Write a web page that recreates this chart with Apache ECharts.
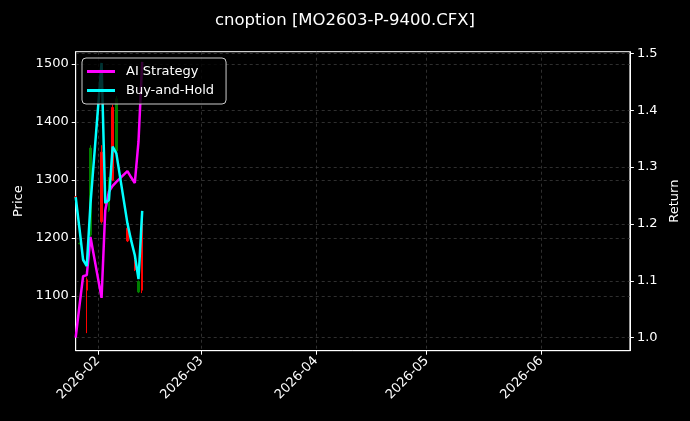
<!DOCTYPE html>
<html>
<head>
<meta charset="utf-8">
<script src="https://cdn.jsdelivr.net/npm/echarts@6/dist/echarts.min.js"></script>
<style>
html,body{margin:0;padding:0;background:#000;}
#chart{width:690px;height:421px;}
</style>
</head>
<body>
<div id="chart"></div>
<script>
// ---- data ----
var dates = ['2026-01-26','2026-01-27','2026-01-28','2026-01-29','2026-01-30',
             '2026-02-02','2026-02-03','2026-02-04','2026-02-05','2026-02-06',
             '2026-02-09','2026-02-10','2026-02-11','2026-02-12','2026-02-13'];
var openP  = [1270, 1191, 1161, 1110, 1355, 1228, 1259, 1300, 1300, 1440, 1195, 1197, 1145, 1125, 1110];
var closeP = [1271, 1190, 1162, 1128, 1205, 1348, 1261, 1248, 1425, 1350, 1217, 1196, 1160, 1107, 1237];
var lowP   = [1269, 1189, 1160, 1036, 1198, 1225, 1258, 1245, 1298, 1345, 1193, 1195, 1143, 1105, 1105];
var highP  = [1272, 1192, 1163, 1132, 1360, 1360, 1262, 1305, 1430, 1445, 1219, 1198, 1162, 1127, 1240];
var strategy = [1.000, 1.055, 1.108, 1.110, 1.177, 1.070, 1.224, 1.257, 1.267, 1.274, 1.293, 1.282, 1.272, 1.345, 1.485];
var buyHold  = [1.247, 1.193, 1.137, 1.126, 1.235, 1.483, 1.237, 1.242, 1.336, 1.324, 1.201, 1.171, 1.145, 1.103, 1.223];
var monthTicks = ['2026-02','2026-03','2026-04','2026-05','2026-06'];
var priceTicks = [1100, 1200, 1300, 1400, 1500];
var returnTicks = [1.0, 1.1, 1.2, 1.3, 1.4, 1.5];

function ts(s){ var p = s.split('-'); return Date.UTC(+p[0], +p[1]-1, p[2] ? +p[2] : 1); }
function pad(n){ return (n < 10 ? '0' : '') + n; }

var monthTs = monthTicks.map(ts);
var grid = {color:'#3c3c3c', type:[3,3], width:0.8};

var chart = echarts.init(document.getElementById('chart'), null, {renderer:'canvas'});
chart.setOption({
  animation: false,
  backgroundColor: '#000',
  textStyle: {fontFamily: 'DejaVu Sans'},
  title: {
    text: 'cnoption [MO2603-P-9400.CFX]',
    left: 'center', top: 7,
    textStyle: {color:'#fff', fontSize:16.5, fontWeight:'normal', fontFamily:'DejaVu Sans'}
  },
  grid: {left: 75.7, right: 60.1, top: 51.7, bottom: 70.3, show: true, borderColor:'#fff', borderWidth:1, backgroundColor:'#000'},
  legend: {
    orient: 'vertical', left: 82, top: 58,
    padding: [7, 12, 7, 5], itemGap: 6,
    itemWidth: 28, itemHeight: 3,
    backgroundColor: 'rgba(0,0,0,0.8)', borderColor: '#cccccc', borderWidth: 1, borderRadius: 4,
    textStyle: {color:'#fff', fontSize: 13, padding:[0,0,0,6]},
    data: [{name:'AI Strategy', icon:'rect'}, {name:'Buy-and-Hold', icon:'rect'}]
  },
  xAxis: {
    type: 'value',
    min: ts('2026-01-26'), max: ts('2026-06-25'),
    axisLine: {show:true, lineStyle:{color:'#fff'}},
    axisTick: {show:true, customValues: monthTs, length: 4, lineStyle:{color:'#fff'}},
    axisLabel: {
      customValues: monthTs, rotate: 45, color:'#fff', fontSize: 13, margin: 8,
      formatter: function(v){ var d = new Date(v); return d.getUTCFullYear() + '-' + pad(d.getUTCMonth()+1); }
    },
    splitLine: {show:true, lineStyle: grid}
  },
  yAxis: [{
    type: 'value', min: 1005.7, max: 1521.2, position: 'left',
    name: 'Price', nameLocation: 'middle', nameGap: 50, nameRotate: 90,
    nameTextStyle: {color:'#fff', fontSize: 13},
    axisLine: {show:true, lineStyle:{color:'#fff'}},
    axisTick: {show:true, customValues: priceTicks, length: 4, lineStyle:{color:'#fff'}},
    axisLabel: {customValues: priceTicks, color:'#fff', fontSize: 13, margin: 7,
      formatter: function(v){ return String(Math.round(v)); }},
    splitLine: {show:true, lineStyle: grid}
  }, {
    type: 'value', min: 0.9771, max: 1.5028, position: 'right',
    name: 'Return', nameLocation: 'middle', nameGap: 36, nameRotate: 90,
    nameTextStyle: {color:'#fff', fontSize: 13},
    axisLine: {show:true, lineStyle:{color:'#fff'}},
    axisTick: {show:true, customValues: returnTicks, length: 4, lineStyle:{color:'#fff'}},
    axisLabel: {customValues: returnTicks, color:'#fff', fontSize: 13, margin: 7,
      formatter: function(v){ return v.toFixed(1); }},
    splitLine: {show:true, lineStyle: grid}
  }],
  series: [{
    type: 'candlestick', name: 'Price', xAxisIndex: 0, yAxisIndex: 0,
    barWidth: 2,
    encode: {x: 0, y: [1, 2, 3, 4]},
    data: dates.map(function(d, i){ return [ts(d), openP[i], closeP[i], lowP[i], highP[i]]; }),
    itemStyle: {color:'#ff0000', color0:'#008000', borderColor:'#ff0000', borderColor0:'#008000', borderWidth: 1}
  }, {
    type: 'line', name: 'AI Strategy', xAxisIndex: 0, yAxisIndex: 1,
    symbol: 'none', showSymbol: false,
    data: dates.map(function(d, i){ return [ts(d), strategy[i]]; }),
    lineStyle: {width: 2.5, color:'#ff00ff'}, itemStyle: {color:'#ff00ff'}
  }, {
    type: 'line', name: 'Buy-and-Hold', xAxisIndex: 0, yAxisIndex: 1,
    symbol: 'none', showSymbol: false,
    data: dates.map(function(d, i){ return [ts(d), buyHold[i]]; }),
    lineStyle: {width: 2.5, color:'#00ffff'}, itemStyle: {color:'#00ffff'}
  }]
});
</script>
</body>
</html>
